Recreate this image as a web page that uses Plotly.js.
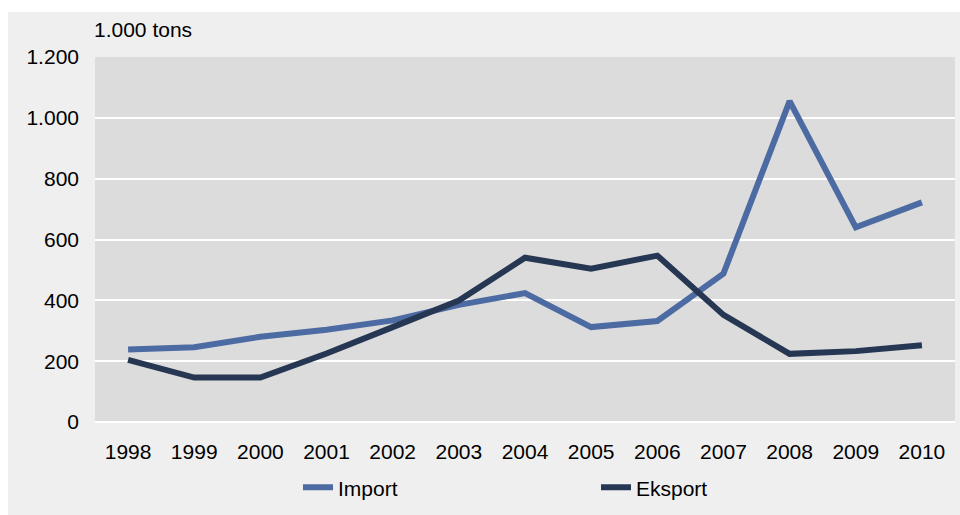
<!DOCTYPE html>
<html><head><meta charset="utf-8">
<script src="https://cdn.plot.ly/plotly-3.0.1.min.js"></script>
<style>html,body{margin:0;padding:0;background:#fff}</style>
</head><body><div id="chart" style="width:960px;height:515px"></div>
<script>
const years = ['1998','1999','2000','2001','2002','2003','2004','2005','2006','2007','2008','2009','2010'];
const importVals = [238, 246, 280, 303, 334, 385, 424, 312, 332, 488, 1055, 640, 722];
const eksportVals = [204, 146, 146, 225, 312, 399, 540, 504, 547, 352, 224, 233, 252];
const yTicks = [0, 200, 400, 600, 800, 1000, 1200];
const unitLabel = '1.000 tons';

const font = {family: 'Liberation Sans, Arial, sans-serif', size: 21, color: '#000'};
const L = 95, R = 5, T = 57, B = 93, W = 960, H = 515;
const pw = W - L - R, ph = H - T - B;

const traces = [
  {x: years, y: importVals, name: 'Import', type: 'scatter', mode: 'lines',
   line: {color: '#4d6ba3', width: 6}},
  {x: years, y: eksportVals, name: 'Eksport', type: 'scatter', mode: 'lines',
   line: {color: '#263754', width: 6}}
];

const layout = {
  width: W, height: H,
  margin: {l: L, r: R, t: T, b: B, pad: 0},
  paper_bgcolor: '#ffffff',
  plot_bgcolor: '#dcdcdc',
  font: font,
  separators: ',.',
  showlegend: true,
  legend: {orientation: 'h', x: (298 - L) / pw, xanchor: 'left', y: -0.18, yanchor: 'middle',
           entrywidth: 253, entrywidthmode: 'pixels', font: font, bgcolor: 'rgba(0,0,0,0)',
           itemwidth: 30},
  xaxis: {type: 'category', range: [-0.5, 12.5], showgrid: false, zeroline: false,
          showline: false, ticks: '', ticklabelstandoff: 15, tickfont: font, fixedrange: true},
  yaxis: {range: [0, 1200], tickvals: yTicks, tickformat: ',d', showgrid: true,
          gridcolor: '#ffffff', gridwidth: 2, zeroline: true, zerolinecolor: '#ffffff',
          zerolinewidth: 2, showline: false, ticks: '', ticklabelstandoff: 15,
          tickfont: font, fixedrange: true},
  shapes: [
    {type: 'rect', xref: 'paper', yref: 'paper', layer: 'below',
     x0: (8 - L) / pw, x1: (W - L) / pw + 0.01, y0: -(B + 5) / ph, y1: (ph + T - 12) / ph,
     fillcolor: '#efefef', line: {width: 0}},
    {type: 'rect', xref: 'paper', yref: 'paper', layer: 'below',
     x0: 0, x1: 1, y0: 0, y1: 1, fillcolor: '#dcdcdc', line: {width: 0}}
  ],
  annotations: [
    {text: unitLabel, xref: 'paper', yref: 'paper', x: -0.003, xanchor: 'left',
     y: 1 + (T - 30) / ph, yanchor: 'middle', showarrow: false, font: font}
  ]
};

Plotly.newPlot('chart', traces, layout, {displayModeBar: false, staticPlot: true});
</script></body></html>
